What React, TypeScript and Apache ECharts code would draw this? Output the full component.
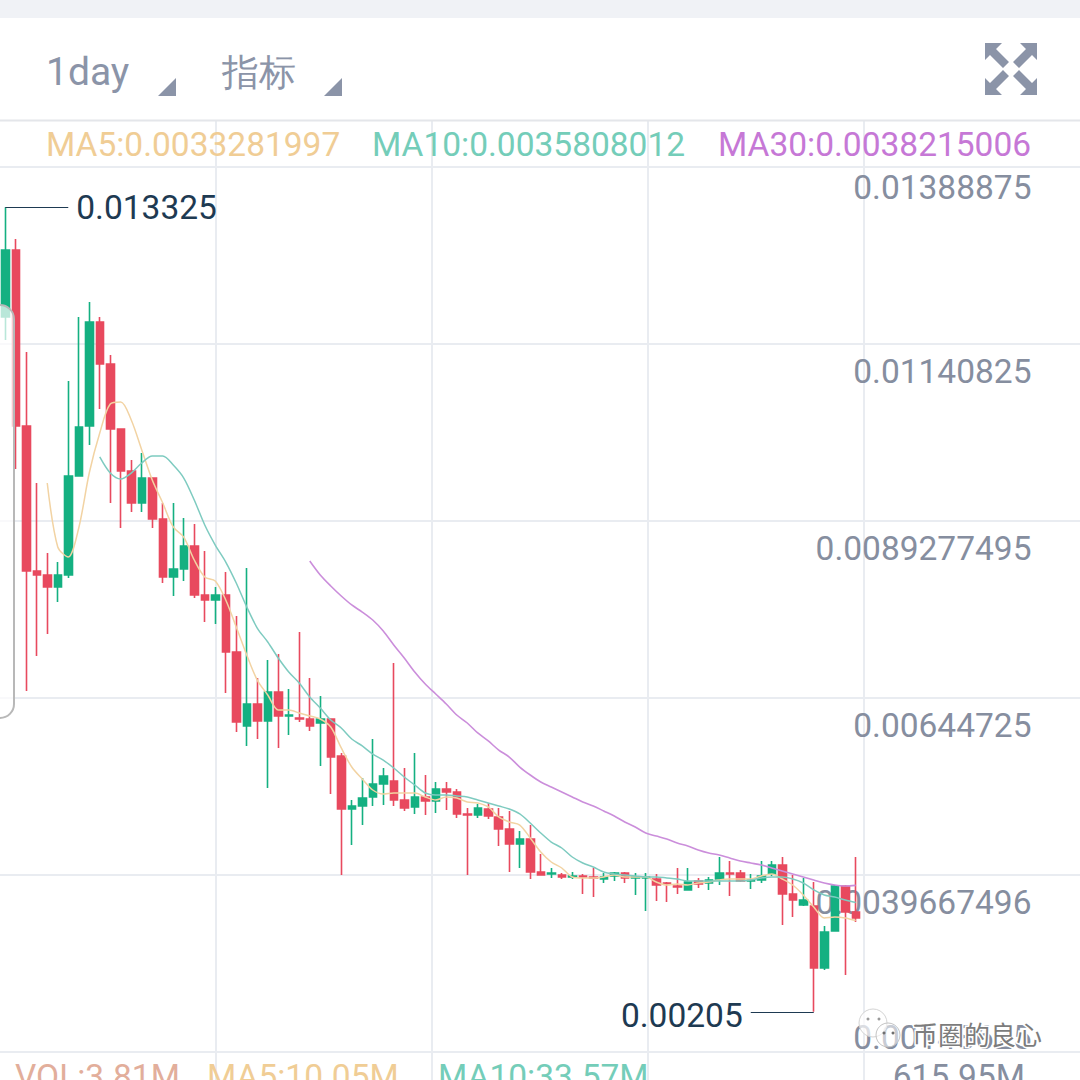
import { useEffect, useRef } from 'react';
import * as echarts from 'echarts';

// daily candles
const opens = [
  0.011787, 0.012725, 0.010259, 0.008227, 0.008171, 0.008003, 0.008171, 0.009558, 0.010259, 0.011716,
  0.011128, 0.010217, 0.009628, 0.00918, 0.00953, 0.008956, 0.008143, 0.008255, 0.008577, 0.007891,
  0.007821, 0.007891, 0.007092, 0.006055, 0.006363, 0.006125, 0.006531, 0.006195, 0.006167, 0.006153,
  0.006097, 0.006153, 0.005634, 0.004892, 0.004934, 0.00506, 0.005242, 0.005284, 0.005018, 0.00492,
  0.00506, 0.005004, 0.005172, 0.00513, 0.004822, 0.004808, 0.004892, 0.00478, 0.004611, 0.004401,
  0.004471, 0.004009, 0.003981, 0.003967, 0.003939, 0.003953, 0.003939, 0.003911, 0.003953, 0.003995,
  0.003925, 0.003925, 0.003911, 0.003855, 0.003813, 0.003757, 0.003883, 0.003855, 0.003911, 0.003995,
  0.003995, 0.003883, 0.003897, 0.003981, 0.004107, 0.003701, 0.003546, 0.003532, 0.002663, 0.003182,
  0.003813, 0.003448,
];
const closes = [
  0.012725, 0.010259, 0.008227, 0.008171, 0.008003, 0.008171, 0.009558, 0.010245, 0.011716, 0.011128,
  0.010217, 0.009628, 0.00918, 0.00953, 0.008956, 0.008143, 0.008255, 0.008577, 0.007891, 0.007821,
  0.007891, 0.007092, 0.006111, 0.006363, 0.006125, 0.006531, 0.006195, 0.006209, 0.006153, 0.006055,
  0.006153, 0.00562, 0.004892, 0.004934, 0.005046, 0.005242, 0.005354, 0.005018, 0.004906, 0.00506,
  0.005004, 0.005172, 0.00513, 0.004822, 0.004808, 0.004906, 0.004794, 0.004611, 0.004401, 0.004471,
  0.004009, 0.003967, 0.003995, 0.003939, 0.003953, 0.003939, 0.003925, 0.003939, 0.003995, 0.003925,
  0.003939, 0.003939, 0.003827, 0.003841, 0.003799, 0.003869, 0.003841, 0.003897, 0.003995, 0.003981,
  0.003883, 0.003897, 0.003953, 0.004107, 0.003701, 0.003616, 0.003616, 0.002663, 0.003168, 0.003813,
  0.003448, 0.003364,
];
const lows = [
  0.011464, 0.009656, 0.006545, 0.007036, 0.007344, 0.007793, 0.008129, 0.009558, 0.009993, 0.010497,
  0.00918, 0.00883, 0.009054, 0.009054, 0.00883, 0.008059, 0.007877, 0.008087, 0.007849, 0.007512,
  0.007484, 0.006517, 0.005971, 0.005775, 0.005873, 0.005186, 0.005747, 0.005929, 0.006111, 0.005985,
  0.005494, 0.005102, 0.003967, 0.004387, 0.004667, 0.004934, 0.004948, 0.004934, 0.004864, 0.004822,
  0.004808, 0.004836, 0.004878, 0.004766, 0.003967, 0.004766, 0.004752, 0.004373, 0.004009, 0.004065,
  0.003911, 0.003967, 0.003925, 0.003911, 0.003911, 0.003701, 0.003658, 0.003855, 0.003883, 0.003855,
  0.003687, 0.003462, 0.003602, 0.003588, 0.003701, 0.003757, 0.003785, 0.003757, 0.003827, 0.003672,
  0.003869, 0.003771, 0.003855, 0.003953, 0.003266, 0.003378, 0.003532, 0.00205, 0.002635, 0.003182,
  0.002565, 0.003308,
];
const highs = [
  0.013325, 0.01288, 0.011296, 0.00946, 0.008479, 0.008353, 0.01089, 0.011787, 0.011997, 0.011787,
  0.011254, 0.010217, 0.009783, 0.009881, 0.00953, 0.00918, 0.00918, 0.00897, 0.008886, 0.008507,
  0.008003, 0.008213, 0.007596, 0.008269, 0.006728, 0.00698, 0.007064, 0.006573, 0.007372, 0.006728,
  0.006475, 0.006153, 0.005676, 0.005018, 0.005326, 0.005873, 0.005466, 0.006938, 0.005466, 0.005676,
  0.005368, 0.00527, 0.00527, 0.005172, 0.004906, 0.004962, 0.004976, 0.004906, 0.004864, 0.004583,
  0.004667, 0.004261, 0.004065, 0.003995, 0.004009, 0.003981, 0.004065, 0.003995, 0.004009, 0.004009,
  0.003995, 0.003995, 0.003981, 0.003869, 0.004065, 0.004065, 0.003925, 0.003939, 0.004219, 0.004163,
  0.004037, 0.003981, 0.004163, 0.004163, 0.004219, 0.003967, 0.003925, 0.003869, 0.003252, 0.003827,
  0.003827, 0.004219,
];

// moving averages start late, so they carry an offset
const ma5Start = 4;
const ma5 = [
  0.00946, 0.008563, 0.008423, 0.00883, 0.0096, 0.010161, 0.010567, 0.010595, 0.010343, 0.009923,
  0.009502, 0.00918, 0.008844, 0.008703, 0.008381, 0.008143, 0.008087, 0.007821, 0.007442, 0.00705,
  0.006699, 0.006489, 0.006279, 0.006279, 0.006237, 0.006195, 0.006153, 0.006041, 0.005747, 0.00548,
  0.005312, 0.005158, 0.005102, 0.005116, 0.005116, 0.005116, 0.00506, 0.005018, 0.00506, 0.005046,
  0.00499, 0.004976, 0.00492, 0.00478, 0.004709, 0.004667, 0.004485, 0.004289, 0.004149, 0.004065,
  0.003939, 0.003925, 0.003925, 0.003939, 0.003967, 0.003939, 0.003939, 0.003939, 0.003869, 0.003827,
  0.003841, 0.003827, 0.003855, 0.003869, 0.003897, 0.003911, 0.003911, 0.003911, 0.003953, 0.003981,
  0.003911, 0.003827, 0.003687, 0.003518, 0.003364, 0.003378, 0.003364, 0.003328,
];
const ma10Start = 9;
const ma10 = [
  0.009825, 0.0096, 0.009516, 0.0096, 0.009741, 0.009839, 0.009839, 0.009712, 0.00953, 0.009222,
  0.008872, 0.008591, 0.008353, 0.008059, 0.007723, 0.007428, 0.007232, 0.007008, 0.006812, 0.006657,
  0.006461, 0.006307, 0.006139, 0.006027, 0.005873, 0.005775, 0.005662, 0.005578, 0.005466, 0.00534,
  0.005228, 0.005116, 0.005088, 0.005088, 0.005074, 0.00506, 0.005018, 0.004976, 0.004934, 0.004892,
  0.004822, 0.004695, 0.004555, 0.004429, 0.004345, 0.004219, 0.004135, 0.004079, 0.004009, 0.003981,
  0.003967, 0.003953, 0.003939, 0.003939, 0.003925, 0.003911, 0.003883, 0.003883, 0.003883, 0.003883,
  0.003883, 0.003883, 0.003897, 0.003925, 0.003939, 0.003939, 0.003911, 0.003855, 0.003757, 0.003687,
  0.003658, 0.003616, 0.003581,
];
const ma30Start = 29;
const ma30 = [
  0.008367, 0.008171, 0.008017, 0.007877, 0.007751, 0.007652, 0.00754, 0.007386, 0.00719, 0.007008,
  0.006812, 0.006643, 0.006503, 0.006363, 0.006209, 0.006097, 0.005957, 0.005845, 0.005718, 0.00562,
  0.00548, 0.005368, 0.00527, 0.0052, 0.00513, 0.00506, 0.00499, 0.004934, 0.004864, 0.004794,
  0.004709, 0.004639, 0.004555, 0.004513, 0.004471, 0.004415, 0.004373, 0.004317, 0.004275, 0.004247,
  0.004205, 0.004163, 0.004135, 0.004107, 0.004065, 0.004023, 0.003981, 0.003939, 0.003897, 0.003855,
  0.003827, 0.003813, 0.003822,
];

const categoryCount = 103; // the visible window has room left of the axis labels
const yMin = 0.00148625;
const yMax = 0.01388875;
const yStep = 0.0024805;
const yTickLabels = ['0.00148625', '0.0039667496', '0.00644725', '0.0089277495', '0.01140825', '0.01388875'];
const highLabel = '0.013325';
const lowLabel = '0.00205';

const RED = '#e8495e';
const GREEN = '#14b081';
const GREY = '#868e9f';
const DARK = '#1e3a52';
const LINE = '#e9ecf1';
const C_MA5 = '#f0cd95';
const C_MA10 = '#74cdb9';
const C_MA30 = '#c678d6';
const FONT = 'Roboto';

const ARROW = [[-26, -26], [-9, -26], [-15, -20], [-2, -7], [-8, -1], [-21, -14], [-26, -9]];

function label(text: string, x: number, y: number, fill: string, fontSize = 33.5, align = 'left') {
  return {
    type: 'text',
    x,
    y,
    z: 20,
    style: { text, fill, fontSize, fontFamily: FONT, align, verticalAlign: 'middle' },
  };
}

function expandArrow(sx: number, sy: number) {
  return {
    type: 'polygon',
    z: 20,
    shape: { points: ARROW.map(([px, py]) => [1011 + sx * px, 69 + sy * py]) },
    style: { fill: '#8b94a8' },
  };
}

function pad(values: number[], start: number) {
  return [...Array(start).fill(null), ...values];
}

export default function App() {
  const chartRef = useRef<HTMLDivElement>(null);

  useEffect(() => {
    if (!chartRef.current) return;
    document.body.style.margin = '0';
    const chart = echarts.init(chartRef.current, undefined, { renderer: 'svg' });

    const categories = Array.from({ length: categoryCount }, (_, i) => String(i));
    const candles = opens.map((o, i) => [o, closes[i], lows[i], highs[i]]);

    const maSeries = (name: string, values: number[], start: number, color: string, width: number) => ({
      name,
      type: 'line',
      data: pad(values, start),
      smooth: 0.3,
      showSymbol: false,
      lineStyle: { color, width },
      itemStyle: { color },
      z: 5,
    });

    const option: echarts.EChartsCoreOption = {
      animation: false,
      backgroundColor: '#ffffff',
      grid: [
        // slightly wider than the page so a band is 10.5px, echarts 6 would clamp it otherwise
        { left: 0, top: 167, width: 1081.5, height: 885, outerBoundsMode: 'none' },
        // only carries the vertical rules, they are not tied to the candles
        { left: 0, top: 120, width: 1080, height: 960 },
      ],
      xAxis: [
        {
          type: 'category',
          gridIndex: 0,
          data: categories,
          axisLine: { show: false },
          axisTick: { show: false },
          axisLabel: { show: false },
          splitLine: { show: false },
        },
        {
          type: 'value',
          gridIndex: 1,
          min: 0,
          max: 1080,
          interval: 216,
          axisLine: { show: false },
          axisTick: { show: false },
          axisLabel: { show: false },
          splitLine: { show: true, showMinLine: false, showMaxLine: false, lineStyle: { color: LINE, width: 2 } },
        },
      ],
      yAxis: [
        {
          type: 'value',
          gridIndex: 0,
          position: 'right',
          min: yMin,
          max: yMax,
          interval: yStep,
          axisLine: { show: false },
          axisTick: { show: false },
          splitLine: { show: true, lineStyle: { color: LINE, width: 2 } },
          axisLabel: {
            inside: true,
            margin: 50,
            align: 'right',
            color: GREY,
            fontFamily: FONT,
            fontSize: 33.5,
            formatter: (_: number, index: number) => {
              const style = index === 0 ? 'bottom' : index === yTickLabels.length - 1 ? 'top' : 'mid';
              return `{${style}|${yTickLabels[index]}}`;
            },
            rich: {
              top: { padding: [40, 0, 0, 0], color: GREY, fontFamily: FONT, fontSize: 33.5 },
              mid: { padding: [54, 0, 0, 0], color: GREY, fontFamily: FONT, fontSize: 33.5 },
              bottom: { padding: [0, 0, 30, 0], color: GREY, fontFamily: FONT, fontSize: 33.5 },
            },
          },
        },
        {
          type: 'value',
          gridIndex: 1,
          min: 0,
          max: 1,
          show: false,
        },
      ],
      series: [
        {
          name: 'K',
          type: 'candlestick',
          data: candles,
          barWidth: 8,
          itemStyle: {
            color: GREEN,
            color0: RED,
            borderColor: GREEN,
            borderColor0: RED,
            borderColorDoji: GREEN,
            borderWidth: 1.6,
          },
          z: 4,
          markLine: {
            silent: true,
            symbol: 'none',
            lineStyle: { color: DARK, width: 1.2, type: 'solid' },
            label: {
              show: true,
              position: 'end',
              color: DARK,
              fontFamily: FONT,
              fontSize: 33.5,
              distance: 8,
            },
            data: [
              [
                { coord: ['0', highs[0]], label: { formatter: highLabel } },
                { coord: ['6', highs[0]] },
              ],
              [
                { coord: ['77', lows[77]], label: { formatter: lowLabel, offset: [0, 4] } },
                { coord: ['71', lows[77]] },
              ],
            ],
          },
        },
        maSeries('MA5', ma5, ma5Start, '#f2d3a3', 1.5),
        maSeries('MA10', ma10, ma10Start, '#7ecbc0', 1.5),
        maSeries('MA30', ma30, ma30Start, '#cb8edb', 1.6),
      ],
      graphic: [
        { type: 'rect', z: 10, shape: { x: 0, y: 0, width: 1080, height: 18 }, style: { fill: '#f0f2f6' } },
        { type: 'line', z: 10, shape: { x1: 0, y1: 120.5, x2: 1080, y2: 120.5 }, style: { stroke: '#e4e6ea', lineWidth: 2 } },
        // drawer handle on the left edge, half see-through
        {
          type: 'rect',
          z: 12,
          shape: { x: -40, y: 305, width: 54, height: 413, r: 14 },
          style: { fill: 'rgba(255,255,255,0.7)', stroke: '#b8b8b8', lineWidth: 2 },
        },
        label('1day', 46, 72, '#8b94a8', 39),
        label('指标', 222, 72, '#8b94a8', 37),
        { type: 'polygon', z: 20, shape: { points: [[158, 96], [176, 78], [176, 96]] }, style: { fill: '#8b94a8' } },
        { type: 'polygon', z: 20, shape: { points: [[324, 96], [342, 78], [342, 96]] }, style: { fill: '#8b94a8' } },
        expandArrow(1, 1),
        expandArrow(-1, 1),
        expandArrow(1, -1),
        expandArrow(-1, -1),
        label('MA5:0.0033281997', 46, 144, C_MA5),
        label('MA10:0.0035808012', 372, 144, C_MA10),
        label('MA30:0.0038215006', 718, 144, C_MA30),
        label('VOL:3.81M', 15, 1076, '#e2ae9b'),
        label('MA5:10.05M', 207, 1076, C_MA5),
        label('MA10:33.57M', 438, 1076, C_MA10),
        label('615.95M', 1025, 1076, GREY, 33.5, 'right'),
        // watermark
        { type: 'circle', z: 30, shape: { cx: 873, cy: 1023, r: 14 }, style: { fill: 'rgba(255,255,255,0.7)', stroke: '#d4d4d4', lineWidth: 1 } },
        { type: 'circle', z: 31, shape: { cx: 888, cy: 1035, r: 12 }, style: { fill: 'rgba(255,255,255,0.55)', stroke: '#c4c4c4', lineWidth: 1 } },
        { type: 'circle', z: 32, shape: { cx: 868, cy: 1019, r: 1.5 }, style: { fill: '#9a9a9a' } },
        { type: 'circle', z: 32, shape: { cx: 879, cy: 1019, r: 1.5 }, style: { fill: '#9a9a9a' } },
        { type: 'circle', z: 32, shape: { cx: 884, cy: 1033, r: 1.5 }, style: { fill: '#6f6f6f' } },
        { type: 'circle', z: 32, shape: { cx: 893, cy: 1033, r: 1.5 }, style: { fill: '#6f6f6f' } },
        {
          type: 'text',
          x: 912,
          y: 1033,
          z: 32,
          style: {
            text: '币圈的良心',
            fill: '#7c7c7c',
            stroke: '#ffffff',
            lineWidth: 3,
            fontSize: 26,
            fontFamily: 'Noto Sans CJK SC',
            verticalAlign: 'middle',
          },
        },
      ],
    };

    chart.setOption(option);
    return () => chart.dispose();
  }, []);

  return (
    <div
      ref={chartRef}
      style={{ position: 'fixed', left: 0, top: 0, width: '1080px', height: '1080px' }}
    />
  );
}
